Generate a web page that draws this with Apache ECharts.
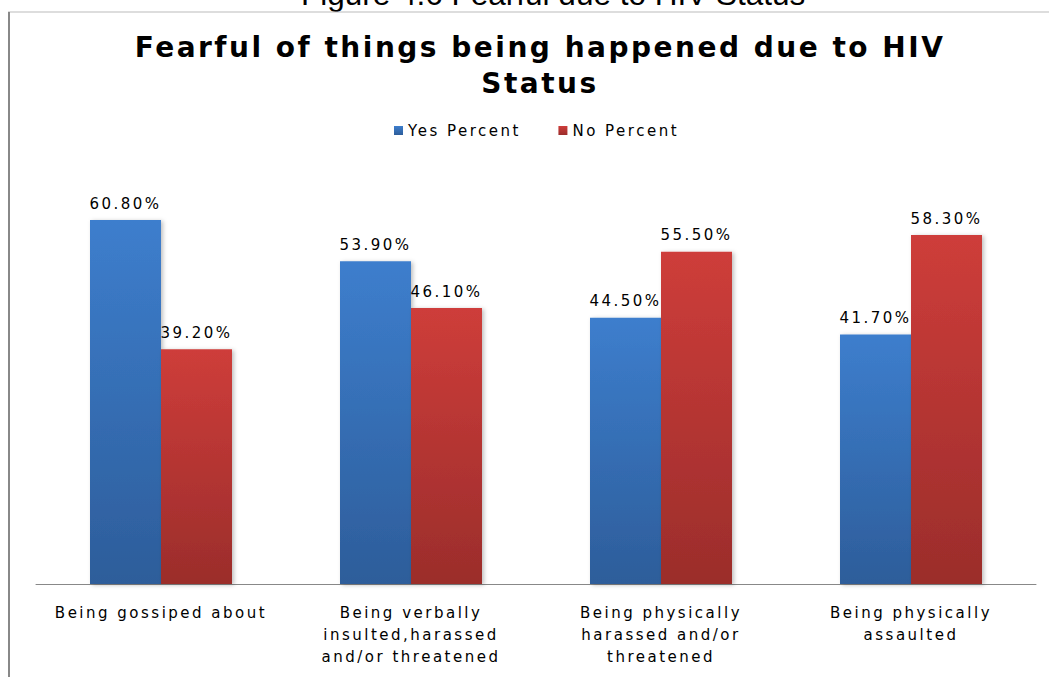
<!DOCTYPE html>
<html>
<head>
<meta charset="utf-8">
<script src="https://cdn.jsdelivr.net/npm/echarts@6/dist/echarts.min.js"></script>
<style>
  html, body { margin: 0; padding: 0; background: #fff; }
  #chart { width: 1049px; height: 677px; }
  /* wide, loosely tracked lettering for the chart texts */
  #chart text { letter-spacing: 2.5px; }
  #chart text[style*="Liberation"] { letter-spacing: 0; }
</style>
</head>
<body>
<div id="chart"></div>
<script>
// Fear of consequences related to HIV status, by respondents' answer
const categories = [
  'Being gossiped about',
  'Being verbally\ninsulted,harassed\nand/or threatened',
  'Being physically\nharassed and/or\nthreatened',
  'Being physically\nassaulted'
];
const yesPercent = [60.8, 53.9, 44.5, 41.7];
const noPercent = [39.2, 46.1, 55.5, 58.3];
const seriesNames = ['Yes Percent', 'No Percent'];
const figureCaption = 'Figure 4.6 Fearful due to HIV Status';
const chartTitle = 'Fearful of things being happened due to HIV\nStatus';

const labelFont = 'DejaVu Sans';

function vGrad(top, bottom) {
  return new echarts.graphic.LinearGradient(0, 0, 0, 1, [
    { offset: 0, color: top },
    { offset: 1, color: bottom }
  ]);
}

function barSeries(name, values, top, bottom) {
  return {
    name: name,
    type: 'bar',
    data: values,
    barWidth: 71,
    barGap: '0%',
    itemStyle: {
      color: vGrad(top, bottom),
      shadowColor: 'rgba(0,0,0,0.25)',
      shadowBlur: 4,
      shadowOffsetX: 2,
      shadowOffsetY: 1
    },
    label: {
      show: true,
      position: 'top',
      distance: 9,
      color: '#000',
      fontFamily: labelFont,
      fontSize: 15,
      formatter: p => p.value.toFixed(2) + '%'
    },
    emphasis: { disabled: true }
  };
}

const chart = echarts.init(document.getElementById('chart'), null, { renderer: 'svg' });
chart.setOption({
  animation: false,
  backgroundColor: '#fff',
  title: {
    text: chartTitle,
    left: 535,
    textAlign: 'center',
    top: 24,
    textStyle: {
      fontFamily: 'DejaVu Sans',
      fontWeight: 'bold',
      fontSize: 28,
      lineHeight: 36,
      color: '#000'
    }
  },
  legend: {
    top: 118,
    left: 389,
    icon: 'rect',
    itemWidth: 9,
    itemHeight: 9,
    itemGap: 65,
    textStyle: { fontFamily: labelFont, fontSize: 15, color: '#000' },
    data: seriesNames
  },
  graphic: [
    {
      type: 'text',
      left: 301,
      top: -22,
      style: {
        text: figureCaption,
        font: '31.5px "Liberation Sans", Arial, sans-serif',
        fill: '#000'
      }
    },
    {
      type: 'line',
      shape: { x1: 8, y1: 12, x2: 1049, y2: 12 },
      style: { stroke: '#bbb', lineWidth: 1 }
    },
    {
      type: 'line',
      shape: { x1: 9, y1: 12, x2: 9, y2: 677 },
      style: { stroke: '#888', lineWidth: 2 }
    }
  ],
  grid: { left: 36, right: 13, top: 165, bottom: 93, containLabel: false },
  xAxis: {
    type: 'category',
    data: categories,
    axisLine: { lineStyle: { color: '#888', width: 1 } },
    axisTick: { show: false },
    axisLabel: {
      interval: 0,
      margin: 18,
      color: '#000',
      fontFamily: labelFont,
      fontSize: 15,
      lineHeight: 22
    }
  },
  yAxis: {
    type: 'value',
    min: 0,
    max: 70,
    show: false,
    splitLine: { show: false }
  },
  series: [
    barSeries(seriesNames[0], yesPercent, '#3D7ECD', '#2D5D9A'),
    barSeries(seriesNames[1], noPercent, '#CE3D3A', '#9B2D2B')
  ]
});
</script>
</body>
</html>
